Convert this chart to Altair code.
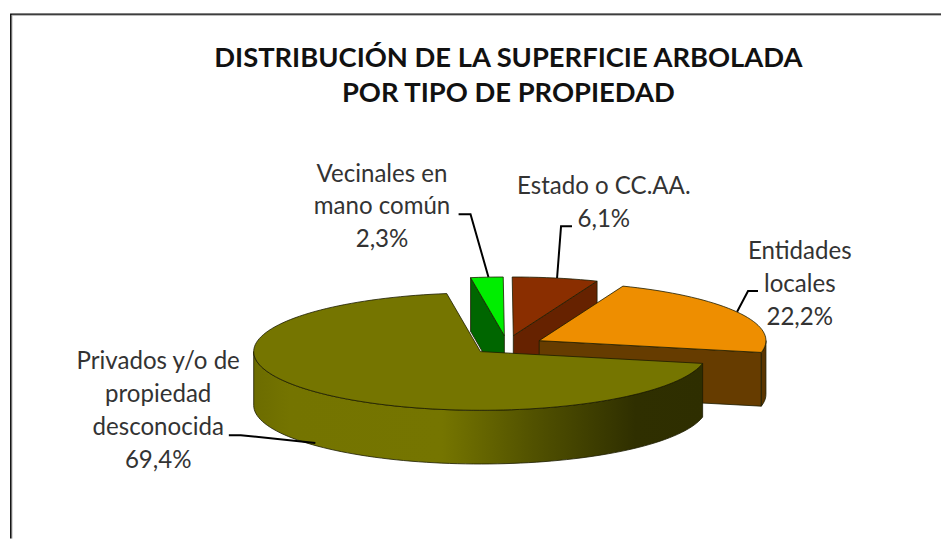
import math
import altair as alt
import pandas as pd

# Data
categories = ["Privados y/o de propiedad desconocida", "Vecinales en mano común", "Estado o CC.AA.", "Entidades locales"]
shares = [69.4, 2.3, 6.1, 22.2]

title_lines = ["DISTRIBUCIÓN DE LA SUPERFICIE ARBOLADA", "POR TIPO DE PROPIEDAD"]
label_lines = [
    ["Privados y/o de", "propiedad", "desconocida", "69,4%"],
    ["Vecinales en", "mano común", "2,3%"],
    ["Estado o CC.AA.", "6,1%"],
    ["Entidades", "locales", "22,2%"],
]
FONT = "Lato"

# Projection of the 3-D pie
RX, RY, DEPTH = 228, 59, 54
START = 11.6
W, H = 936, 532
xs = alt.Scale(domain=[8, 8 + W], range=[0, W], nice=False, zero=False)
ys = alt.Scale(domain=[8, 8 + H], range=[0, H], nice=False, zero=False)

angles = {}
a = START
for c, s in zip(categories, shares):
    angles[c] = (a, a + s * 3.6)
    a += s * 3.6

centres = {
    categories[0]: (481, 352),
    categories[1]: (505, 336),
    categories[2]: (514, 336),
    categories[3]: (540, 341),
}


def rim(c, t0, t1, dy=0):
    cx, cy = centres[c]
    n = max(2, int(abs(t1 - t0) / 2))
    return [
        (cx + RX * math.cos(math.radians(t0 + (t1 - t0) * i / n)),
         cy + RY * math.sin(math.radians(t0 + (t1 - t0) * i / n)) + dy)
        for i in range(n + 1)
    ]


def poly(points, fill, stroke="#1c1c00", sw=0.8):
    pts = list(points) + [points[0]]
    df = pd.DataFrame({"x": [p[0] for p in pts], "y": [p[1] for p in pts], "o": range(len(pts))})
    return alt.Chart(df).mark_line(fill=fill, stroke=stroke, strokeWidth=sw, interpolate="linear", clip=False).encode(
        x=alt.X("x:Q", scale=xs, axis=None),
        y=alt.Y("y:Q", scale=ys, axis=None),
        order="o:Q",
    )


def top(c, fill):
    t0, t1 = angles[c]
    return poly([centres[c]] + rim(c, t0, t1), fill)


def cut(c, t, fill, stroke="#1c1c00"):
    cx, cy = centres[c]
    p = rim(c, t, t)[0]
    return poly([(cx, cy), p, (p[0], p[1] + DEPTH), (cx, cy + DEPTH)], fill, stroke)


def wall(c, t0, t1, fill):
    return poly(rim(c, t0, t1) + rim(c, t1, t0, DEPTH), fill)


def leader(points, color="#000000", sw=2):
    df = pd.DataFrame({"x": [p[0] for p in points], "y": [p[1] for p in points], "o": range(len(points))})
    return alt.Chart(df).mark_line(color=color, strokeWidth=sw).encode(
        x=alt.X("x:Q", scale=xs, axis=None),
        y=alt.Y("y:Q", scale=ys, axis=None),
        order="o:Q",
    )


olive_grad = alt.Gradient(
    gradient="linear", x1=0, x2=1, y1=0, y2=0,
    stops=[
        alt.GradientStop(offset=0, color="#6c6c00"),
        alt.GradientStop(offset=0.08, color="#747400"),
        alt.GradientStop(offset=0.42, color="#757500"),
        alt.GradientStop(offset=0.62, color="#525200"),
        alt.GradientStop(offset=0.85, color="#2f2f00"),
        alt.GradientStop(offset=1, color="#2e2e00"),
    ],
)

pr, ve, es, en = categories
layers = [
    # vecinales
    cut(ve, angles[ve][0], "#006600"),
    top(ve, "#00ee00"),
    # estado
    cut(es, angles[es][1], "#662200"),
    top(es, "#8a2e00"),
    # entidades
    cut(en, angles[en][1], "#663c00"),
    wall(en, 0, START, "#5a3500"),
    top(en, "#ee8e00"),
    # privados
    wall(pr, START, 180, olive_grad),
    top(pr, "#757500"),
    leader([(459, 214), (471, 214), (489, 277)]),
    leader([(573, 226), (562, 226), (558, 278)]),
    leader([(760, 291), (750, 291), (739, 312)]),
    leader([(228, 436), (240, 436), (315, 444)]),
    # frame with its soft inner shade
    leader([(944, 14), (10, 14), (10, 540)], color="#b0b0b0", sw=1),
    leader([(944, 12.7), (8.8, 12.7), (8.8, 540)], color="#000000", sw=1.4),
]

# Texts
label_pos = [(157, 363), (382, 174), (605, 187), (802, 252)]
rows = []
for lines, (lx, ly) in zip(label_lines, label_pos):
    for i, line in enumerate(lines):
        rows.append({"x": lx, "y": ly + i * 33, "t": line})
layers.append(alt.Chart(pd.DataFrame(rows)).mark_text(
    font=FONT, fontSize=24.2, color="#333333", align="center", baseline="middle").encode(
    x=alt.X("x:Q", scale=xs, axis=None), y=alt.Y("y:Q", scale=ys, axis=None), text="t:N"))

trows = [{"x": 509, "y": 57.5 + i * 36, "t": t} for i, t in enumerate(title_lines)]
layers.append(alt.Chart(pd.DataFrame(trows)).mark_text(
    font=FONT, fontSize=27.5, fontWeight="bold", color="#111111", align="center", baseline="middle").encode(
    x=alt.X("x:Q", scale=xs, axis=None), y=alt.Y("y:Q", scale=ys, axis=None), text="t:N"))

chart = alt.layer(*layers).properties(width=W, height=H, padding=0, background="#ffffff").configure_view(stroke=None)
chart.save("out.html", embed_options={"renderer": "svg", "actions": False})
